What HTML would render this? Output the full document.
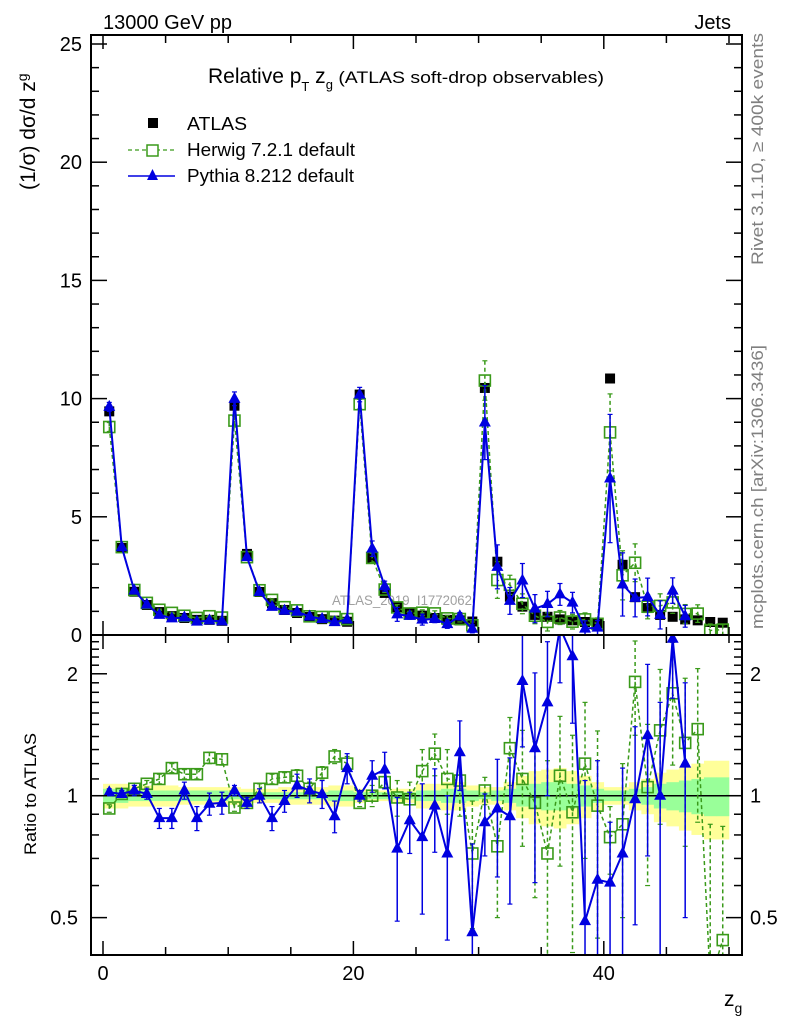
<!DOCTYPE html>
<html><head><meta charset="utf-8">
<style>
html,body{margin:0;padding:0;background:#fff;width:786px;height:1024px;overflow:hidden;}
svg{display:block;font-family:"Liberation Sans",Arial,sans-serif;}
</style></head>
<body>
<svg id="chart" width="786" height="1024" viewBox="0 0 786 1024" xmlns="http://www.w3.org/2000/svg">
<text x="103" y="29" font-size="20">13000 GeV pp</text>
<text x="731" y="29" font-size="20" text-anchor="end">Jets</text>
<text x="208" y="83" font-size="21">Relative p<tspan font-size="13" dy="8">T</tspan><tspan dy="-8"> z</tspan><tspan font-size="13" dy="6">g</tspan><tspan dy="-6" font-size="17" textLength="271" lengthAdjust="spacingAndGlyphs"> (ATLAS soft-drop observables)</tspan></text>
<text transform="translate(35,190) rotate(-90)" font-size="21">(1/σ) dσ/d z<tspan font-size="14" dy="-8">g</tspan></text>
<text transform="translate(36,794) rotate(-90)" font-size="17" text-anchor="middle" textLength="122" lengthAdjust="spacingAndGlyphs">Ratio to ATLAS</text>
<text x="724" y="1006" font-size="21">z<tspan font-size="14" dy="7">g</tspan></text>
<text transform="translate(763,149) rotate(-90)" font-size="17" fill="#808080" text-anchor="middle" textLength="232" lengthAdjust="spacingAndGlyphs">Rivet 3.1.10, ≥ 400k events</text>
<text transform="translate(763,487) rotate(-90)" font-size="17" fill="#808080" text-anchor="middle" textLength="284" lengthAdjust="spacingAndGlyphs">mcplots.cern.ch [arXiv:1306.3436]</text>
<text x="332" y="605" font-size="14" fill="#a0a0a0" textLength="140" lengthAdjust="spacingAndGlyphs">ATLAS_2019_I1772062</text>
<g id="bands"></g>
<g id="marks"></g>
<g id="axes"></g>
<g>
 <rect x="148" y="118" width="10" height="10" fill="#000"/>
 <text x="187" y="130" font-size="18" textLength="60" lengthAdjust="spacingAndGlyphs">ATLAS</text>
 <line x1="128" y1="150" x2="175" y2="150" stroke="#3a9a1a" stroke-width="1.3" stroke-dasharray="4,3"/>
 <rect x="147" y="145" width="11" height="11" fill="#fff" stroke="#3a9a1a" stroke-width="1.5"/>
 <text x="187" y="156" font-size="18" textLength="168" lengthAdjust="spacingAndGlyphs">Herwig 7.2.1 default</text>
 <line x1="128" y1="176" x2="175" y2="176" stroke="#0000e0" stroke-width="1.5"/>
 <polygon points="152.5,169 158,180 147,180" fill="#0000e0"/>
 <text x="187" y="182" font-size="18" textLength="167" lengthAdjust="spacingAndGlyphs">Pythia 8.212 default</text>
</g>
</svg>
<script>
const atlas = [9.46,3.68,1.83,1.27,0.97,0.80,0.72,0.64,0.64,0.60,
 9.70,3.43,1.82,1.35,1.06,0.93,0.76,0.67,0.61,0.56,
 10.17,3.26,1.78,1.18,0.93,0.82,0.72,0.64,0.62,0.57,
 10.45,3.10,1.62,1.20,0.85,0.77,0.66,0.62,0.55,0.50,
 10.85,2.97,1.60,1.14,0.85,0.77,0.66,0.62,0.55,0.52];
const herwigRatio = [0.93,1.01,1.04,1.07,1.10,1.17,1.13,1.13,1.24,1.23,
 0.935,0.96,1.04,1.10,1.11,1.12,1.04,1.14,1.25,1.20,
 0.96,1.00,1.08,0.99,0.98,1.15,1.27,1.10,1.09,0.72,
 1.03,0.75,1.31,1.10,0.96,0.72,1.12,0.91,1.20,0.945,
 0.79,0.85,1.91,1.05,1.45,1.79,1.35,1.46,0.35,0.44];
const pythiaRatio = [1.02,1.01,1.03,1.01,0.88,0.88,1.03,0.88,0.955,0.96,
 1.03,0.96,1.00,0.88,0.97,1.06,1.03,1.01,0.89,1.17,
 1.00,1.12,1.16,0.74,0.87,0.79,0.945,0.72,1.28,0.46,
 0.86,0.93,0.89,1.92,1.31,1.70,2.60,2.21,0.49,0.62,
 0.61,0.72,0.98,1.41,1.00,2.44,1.20,null,null,null];
const herwigErr = [0.02,0.02,0.02,0.02,0.03,0.03,0.03,0.03,0.04,0.04,
 0.02,0.02,0.03,0.03,0.03,0.04,0.04,0.04,0.05,0.05,
 0.02,0.06,0.07,0.1,0.1,0.15,0.15,0.2,0.2,0.25,
 0.08,0.25,0.25,0.35,0.4,0.5,0.45,0.5,0.5,0.5,
 0.15,0.35,0.5,0.45,0.6,0.6,0.6,0.6,0.5,0.4];
const pythiaErr = [0.02,0.02,0.03,0.03,0.05,0.05,0.05,0.06,0.06,0.06,
 0.03,0.03,0.04,0.06,0.06,0.07,0.07,0.08,0.08,0.1,
 0.03,0.1,0.12,0.25,0.15,0.28,0.22,0.28,0.25,0.3,
 0.15,0.3,0.35,0.6,0.7,0.7,0.7,0.7,0.6,0.6,
 0.25,0.45,0.5,0.7,0.7,0.7,0.7,null,null,null];
const yellowBand = [0.07,0.07,0.06,0.06,0.06,0.06,0.05,0.05,0.05,0.05,
 0.05,0.04,0.04,0.04,0.05,0.05,0.05,0.05,0.06,0.06,
 0.04,0.03,0.03,0.04,0.04,0.07,0.07,0.08,0.08,0.06,
 0.05,0.05,0.08,0.12,0.15,0.16,0.17,0.15,0.12,0.08,
 0.05,0.05,0.08,0.1,0.14,0.16,0.18,0.2,0.22,0.22];
const greenBand = [0.04,0.04,0.03,0.03,0.03,0.03,0.03,0.03,0.03,0.03,
 0.02,0.02,0.02,0.02,0.02,0.02,0.02,0.02,0.03,0.03,
 0.02,0.02,0.02,0.02,0.02,0.03,0.03,0.04,0.04,0.03,
 0.02,0.03,0.04,0.06,0.07,0.08,0.08,0.07,0.06,0.04,
 0.03,0.03,0.04,0.05,0.07,0.08,0.09,0.1,0.11,0.11];
const xTickLabels = [0,20,40];
const mainTickLabels = [0,5,10,15,20,25];
const ratioTickLabels = [0.5,1,2];

const NS='http://www.w3.org/2000/svg';
const L=91,R=742,T=35,MB=635,RB=955;
const X=v=>103+12.52*v;
const Y=v=>MB-23.64*v;
const RY=r=>795.7-Math.log10(r)*405;
function mk(tag,attrs,parent){const e=document.createElementNS(NS,tag);for(const k in attrs)e.setAttribute(k,attrs[k]);parent.appendChild(e);return e;}
const bands=document.getElementById('bands'),marks=document.getElementById('marks'),axes=document.getElementById('axes');
const GREEN='#3a9a1a',BLUE='#0000e0';

for(let i=0;i<atlas.length;i++){
 const y1=RY(1+yellowBand[i]),y2=RY(1-yellowBand[i]);
 const r=mk('rect',{x:X(i),y:y1,width:12.8,height:y2-y1,fill:'#ffff99'},bands);
 
 
}
for(let i=0;i<atlas.length;i++){
 const y1=RY(1+greenBand[i]),y2=RY(1-greenBand[i]);
 const r=mk('rect',{x:X(i),y:y1,width:12.8,height:y2-y1,fill:'#99ff99'},bands);
 
 
}
const one=mk('line',{x1:L,x2:R,y1:RY(1),y2:RY(1),stroke:'#000','stroke-width':1.5},bands);



const defs=mk('defs',{},marks);
const c1=mk('clipPath',{id:'cm'},defs);mk('rect',{x:L,y:T,width:R-L,height:MB-T},c1);
const c2=mk('clipPath',{id:'cr'},defs);mk('rect',{x:L,y:MB,width:R-L,height:RB-MB},c2);
const gm=mk('g',{'clip-path':'url(#cm)'},marks);
const gr=mk('g',{'clip-path':'url(#cr)'},marks);

function series(ratio,err,color,dash,kind,name){
 let pts=[],rpts=[];
 for(let i=0;i<atlas.length;i++){
  if(ratio[i]==null)continue;
  const v=atlas[i]*ratio[i];
  pts.push([X(i+0.5),Y(v),v,i]);
  rpts.push([X(i+0.5),RY(ratio[i]),ratio[i],i]);
 }
 [[gm,pts,true],[gr,rpts,false]].forEach(([g,p,isMain])=>{
  const pl=mk('polyline',{points:p.map(q=>q[0]+','+q[1]).join(' '),fill:'none',stroke:color,'stroke-width':kind==='tri'?2:1.5},g);
  if(dash)pl.setAttribute('stroke-dasharray','4,3');
  
  
  p.forEach(q=>{
   const i=q[3],e=err[i];
   let yt,yb;
   if(isMain){yt=Y(q[2]+atlas[i]*e);yb=Y(Math.max(0,q[2]-atlas[i]*e));}
   else{yt=RY(q[2]+e);yb=RY(Math.max(0.05,q[2]-e));}
   const eb=mk('line',{x1:q[0],x2:q[0],y1:yt,y2:yb,stroke:color,'stroke-width':1.5},g);
   if(dash)eb.setAttribute('stroke-dasharray','4,3');
   
   
   mk('line',{x1:q[0]-2.5,x2:q[0]+2.5,y1:yt,y2:yt,stroke:color,'stroke-width':1.2},g);
   mk('line',{x1:q[0]-2.5,x2:q[0]+2.5,y1:yb,y2:yb,stroke:color,'stroke-width':1.2},g);
   let m;
   if(kind==='tri'){m=mk('polygon',{points:`${q[0]},${q[1]-7} ${q[0]+6},${q[1]+4} ${q[0]-6},${q[1]+4}`,fill:color},g);}
   else{m=mk('rect',{x:q[0]-5.5,y:q[1]-5.5,width:11,height:11,fill:'none',stroke:color,'stroke-width':1.6},g);}
   
   
  });
 });
}
for(let i=0;i<atlas.length;i++){
 const r=mk('rect',{x:X(i+0.5)-5,y:Y(atlas[i])-5,width:10,height:10,fill:'#000'},gm);
 
 
}
series(herwigRatio,herwigErr,GREEN,true,'sq','herwig');
series(pythiaRatio,pythiaErr,BLUE,false,'tri','pythia');

[[T,MB],[MB,RB]].forEach(([a,b],k)=>{
 const f=mk('rect',{x:L,y:a,width:R-L,height:b-a,fill:'none',stroke:'#000','stroke-width':2},axes);
 
 
});
for(let v=0;v<=50;v+=5){
 const big=v%20===0,len=big?14:8;
 [[MB,T],[RB,MB]].forEach(([bot,top])=>{
  mk('line',{x1:X(v),x2:X(v),y1:bot,y2:bot-len,stroke:'#000','stroke-width':1.5},axes);
  mk('line',{x1:X(v),x2:X(v),y1:top,y2:top+len,stroke:'#000','stroke-width':1.5},axes);
 });
}
xTickLabels.forEach(v=>{
 const t=mk('text',{x:X(v),y:980,'font-size':20,'text-anchor':'middle'},axes);
 t.textContent=v;
 
 
});
for(let v=0;v<=25;v++){
 const len=v%5===0?16:8;
 mk('line',{x1:L,x2:L+len,y1:Y(v),y2:Y(v),stroke:'#000','stroke-width':1.5},axes);
 mk('line',{x1:R,x2:R-len,y1:Y(v),y2:Y(v),stroke:'#000','stroke-width':1.5},axes);
}
mainTickLabels.forEach(v=>{
 const t=mk('text',{x:82,y:Y(v)+7,'font-size':20,'text-anchor':'end'},axes);
 t.textContent=v;
 
 
});
[0.4,0.5,0.6,0.7,0.8,0.9,1,1.1,1.2,1.3,1.4,1.5,1.6,1.7,1.8,1.9,2,2.1,2.2,2.3,2.4].forEach(r=>{
 const y=RY(r);if(y<MB||y>RB)return;
 const big=(r===0.5||r===1||r===2),len=big?16:8;
 mk('line',{x1:L,x2:L+len,y1:y,y2:y,stroke:'#000','stroke-width':1.5},axes);
 mk('line',{x1:R,x2:R-len,y1:y,y2:y,stroke:'#000','stroke-width':1.5},axes);
});
ratioTickLabels.forEach(r=>{
 const t=mk('text',{x:78,y:RY(r)+7,'font-size':20,'text-anchor':'end'},axes);
 t.textContent=r;
 
 
 const t2=mk('text',{x:750,y:RY(r)+7,'font-size':20},axes);
 t2.textContent=r;
 
 
});
</script>
</body></html>
